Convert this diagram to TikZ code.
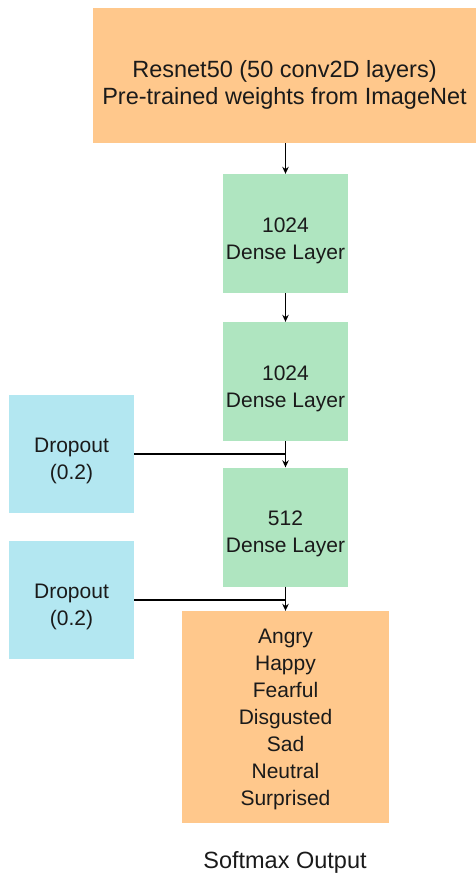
\documentclass[tikz,border=0pt]{standalone}
\usepackage{fontspec}
\setmainfont{Liberation Sans}
\usetikzlibrary{arrows.meta}

\definecolor{boxorange}{HTML}{FFC88C}
\definecolor{boxgreen}{HTML}{AFE5C0}
\definecolor{boxblue}{HTML}{B3E7F1}
\definecolor{inktext}{HTML}{1A1A1A}

\tikzset{
  block/.style={inner sep=0pt, draw=none},
  resblock/.style={block, fill=boxorange, minimum width=383pt, minimum height=135pt},
  dense/.style={block, fill=boxgreen, minimum width=125pt, minimum height=119pt},
  drop/.style={block, fill=boxblue, minimum width=125pt, minimum height=118pt},
  outblock/.style={block, fill=boxorange, minimum width=207pt, minimum height=212pt},
  txt/.style={inner sep=0pt, align=center, text=inktext,
    font=\fontsize{21}{27}\selectfont},
  bigtxt/.style={txt, font=\fontsize{23.5}{27}\selectfont},
  flow/.style={line width=1.2pt, black, -{Stealth[length=7pt,width=6.5pt]}},
  feed/.style={line width=1.3pt, black}
}

\begin{document}
\begin{tikzpicture}[x=1pt, y=-1pt]
  \useasboundingbox (0,0) rectangle (476,873);

  % backbone
  \node[resblock] (res) at (284.5,75.5) {};
  \node[bigtxt, yshift=-9pt] (resT) at (res.center) {Resnet50 (50 conv2D layers)\\Pre-trained weights from ImageNet};

  % dense head
  \node[dense] (d1) at (285.5,233.5) {};
  \node[txt, yshift=-7pt] (d1T) at (d1.center) {1024\\Dense Layer};
  \node[dense] (d2) at (285.5,381.5) {};
  \node[txt, yshift=-7pt] (d2T) at (d2.center) {1024\\Dense Layer};
  \node[dense] (d3) at (285.5,527) {};
  \node[txt, yshift=-7pt] (d3T) at (d3.center) {512\\Dense Layer};

  % dropout blocks
  \node[drop] (dr1) at (71.5,454) {};
  \node[txt, yshift=-7pt] (dr1T) at (dr1.center) {Dropout\\(0.2)};
  \node[drop] (dr2) at (71.5,600) {};
  \node[txt, yshift=-7pt] (dr2T) at (dr2.center) {Dropout\\(0.2)};

  % output classes
  \node[outblock] (out) at (285.5,717) {};
  \node[txt, yshift=-2.5pt] (outT) at (out.center) {Angry\\Happy\\Fearful\\Disgusted\\Sad\\Neutral\\Surprised};
  \node[bigtxt] (cap) at (285,862) {Softmax Output};

  % connectors
  \draw[flow] (res.south -| d1.north) -- (d1.north);
  \draw[flow] (d1.south) -- (d2.north);
  \draw[flow] (d2.south) -- (d3.north);
  \draw[flow] (d3.south) -- (d3.south |- out.north);
  \draw[feed] (dr1.east) -- (dr1.east -| d2.south);
  \draw[feed] (dr2.east) -- (dr2.east -| d3.south);
\end{tikzpicture}
\end{document}
